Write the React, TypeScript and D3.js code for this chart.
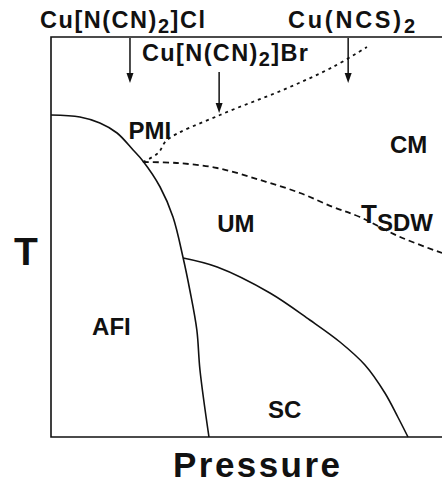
import React, { useRef, useEffect } from 'react';
import * as d3 from 'd3';

// phase boundaries, in (pressure, temperature) units of 0..100
const afiBoundary: [number, number][] = [
  [0, 80.5], [7.4, 80], [12.5, 78.5], [16.9, 76], [21, 71.75], [23.5, 69],
  [27.9, 62.5], [31.2, 55], [33.8, 44.75], [35.5, 36.75], [37.3, 26.75], [38.1, 16.75], [40.4, 0],
];
const scBoundary: [number, number][] = [
  [33.8, 44.75], [42.5, 42.5], [56, 36], [66.2, 29.25], [73.9, 23.75], [80.3, 18], [85.4, 11], [88.7, 5], [91.3, 0],
];
const pmiBoundary: [number, number][] = [
  [23.5, 68.75], [27.4, 71], [29.7, 74.25], [43.2, 80.5], [59.3, 86.75], [72.1, 92.5], [80.8, 97.5],
];
const sdwBoundary: [number, number][] = [
  [23.5, 68.75], [32.2, 68.5], [42.5, 67.25], [53.5, 64.25], [63.7, 61], [72.1, 57.5], [79, 55], [89.3, 50], [100, 46],
];

// salts marked by arrows: name, pressure, arrow top and bottom T
const saltNames = ['Cu[N(CN)2]Cl', 'Cu[N(CN)2]Br', 'Cu(NCS)2'];
const saltPressure = [20.2, 43, 76];
const saltArrowTop = [99.75, 91.25, 99.75];
const saltArrowBottom = [88.5, 81, 88.5];

const phaseLabels = ['PMI', 'CM', 'UM', 'AFI', 'SC'];
const phaseAt: [number, number][] = [[19.8, 74.5], [86.7, 71], [42.5, 51.25], [10.5, 25.5], [55.5, 4.75]];

const App = () => {
  const svgRef = useRef<SVGSVGElement>(null);

  useEffect(() => {
    const W = 442, H = 483;
    const svg = d3.select(svgRef.current).attr('width', W).attr('height', H);
    svg.selectAll('*').remove();

    const x = d3.scaleLinear().domain([0, 100]).range([51, 442]);
    const y = d3.scaleLinear().domain([0, 100]).range([437, 37]);
    const font = '"Liberation Sans", Arial, Helvetica, sans-serif';

    // frame: left, top and bottom
    svg.append('path')
      .attr('d', `M${x(100)},${y(100)}H${x(0)}V${y(0)}H${x(100)}`)
      .attr('fill', 'none').attr('stroke', '#111').attr('stroke-width', 1.6);

    const line = d3.line<[number, number]>()
      .x(d => x(d[0])).y(d => y(d[1]))
      .curve(d3.curveCatmullRom);

    const curves: { pts: [number, number][]; dash: string | null }[] = [
      { pts: afiBoundary, dash: null },
      { pts: scBoundary, dash: null },
      { pts: pmiBoundary, dash: '3,4' },
      { pts: sdwBoundary, dash: '6,4' },
    ];
    curves.forEach(c => {
      svg.append('path')
        .attr('d', line(c.pts))
        .attr('fill', 'none')
        .attr('stroke', '#111')
        .attr('stroke-width', c.dash ? 1.8 : 1.6)
        .attr('stroke-dasharray', c.dash);
    });

    // arrows
    saltPressure.forEach((p, i) => {
      const ax = x(p), y1 = y(saltArrowTop[i]), y2 = y(saltArrowBottom[i]);
      svg.append('line')
        .attr('x1', ax).attr('x2', ax).attr('y1', y1).attr('y2', y2 - 8)
        .attr('stroke', '#111').attr('stroke-width', 1.5);
      svg.append('path')
        .attr('d', `M${ax - 3.5},${y2 - 10}L${ax + 3.5},${y2 - 10}L${ax},${y2}Z`)
        .attr('fill', '#111');
    });

    // salt labels
    const saltPos = [[40, 28, 165], [142, 61, 166], [288, 28, 127]];
    saltNames.forEach((name, i) => {
      const [tx, ty, tl] = saltPos[i];
      const idx = name.indexOf('2');
      const t = svg.append('text')
        .attr('x', tx).attr('y', ty)
        .attr('font-family', font).attr('font-weight', 'bold')
        .attr('font-size', 23.5).attr('fill', '#111')
        .attr('textLength', tl).attr('lengthAdjust', 'spacing');
      t.append('tspan').text(name.slice(0, idx));
      t.append('tspan').attr('dy', 5).attr('font-size', 20).text('2');
      if (idx < name.length - 1) t.append('tspan').attr('dy', -5).text(name.slice(idx + 1));
    });

    // phase labels
    phaseLabels.forEach((lab, i) => {
      svg.append('text')
        .attr('x', x(phaseAt[i][0])).attr('y', y(phaseAt[i][1]))
        .attr('font-family', font).attr('font-weight', 'bold')
        .attr('font-size', 24).attr('fill', '#111')
        .text(lab);
    });

    // T_SDW
    const sdw = svg.append('text')
      .attr('x', 361).attr('y', 223)
      .attr('font-family', font).attr('fill', '#111');
    sdw.append('tspan').attr('font-size', 26).attr('font-weight', 600).text('T');
    sdw.append('tspan').attr('dy', 8).attr('dx', 0).attr('font-weight', 'bold').attr('font-size', 24).text('SDW');

    // axis titles
    svg.append('text')
      .attr('x', 14).attr('y', 265)
      .attr('font-family', font).attr('font-weight', 'bold')
      .attr('font-size', 39).attr('fill', '#111')
      .text('T');
    svg.append('text')
      .attr('x', 173).attr('y', 477)
      .attr('font-family', font).attr('font-weight', 'bold')
      .attr('font-size', 35).attr('fill', '#111')
      .attr('textLength', 167).attr('lengthAdjust', 'spacing')
      .text('Pressure');
  }, []);

  return (
    <div style={{ position: 'absolute', left: 0, top: 0 }}>
      <svg ref={svgRef} style={{ display: 'block', background: '#fff' }}></svg>
    </div>
  );
};

export default App;
